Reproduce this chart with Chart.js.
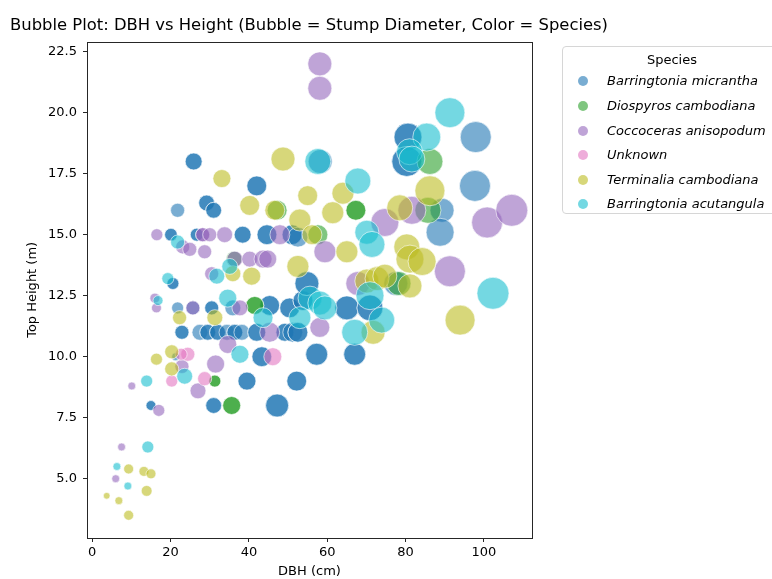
<!DOCTYPE html>
<html>
<head>
<meta charset="utf-8">
<script src="https://cdn.jsdelivr.net/npm/chart.js@4.4.1/dist/chart.umd.min.js"></script>
<style>
  html, body { margin: 0; padding: 0; background: #fff; }
  #wrap { position: relative; width: 772px; height: 579px; overflow: hidden; }
  #chart { position: absolute; left: 0; top: 0; }
  #legend {
    position: absolute; left: 562px; top: 46px; width: 240px; height: 168px;
    box-sizing: border-box; border: 1px solid #d6d6d6; border-radius: 4px; background: #fff;
    font-family: "DejaVu Sans", sans-serif; color: #000;
  }
  #legend .ttl { position: absolute; left: 0; width: 218px; top: 5px; text-align: center; font-size: 13px; }
  #legend .row { position: absolute; left: 0; height: 16px; line-height: 16px; white-space: nowrap; }
  #legend .dot { position: absolute; left: 15px; top: 3px; width: 10px; height: 10px; border-radius: 50%; }
  #legend .lbl { position: absolute; left: 44px; top: 0; font-size: 13px; font-style: italic; }
</style>
</head>
<body>
<div id="wrap">
  <canvas id="chart" width="772" height="579"></canvas>
  <div id="legend"></div>
</div>
<script>
// Tree survey: diameter at breast height (cm), top height (m), stump diameter (cm)
const speciesNames = [
  "Barringtonia micrantha",
  "Diospyros cambodiana",
  "Coccoceras anisopodum",
  "Unknown",
  "Terminalia cambodiana",
  "Barringtonia acutangula"
];
const speciesColors = ["#1f77b4", "#2ca02c", "#9467bd", "#e377c2", "#bcbd22", "#17becf"];

// Barringtonia micrantha
const bmDbh = [97.9, 97.7, 80.6, 80.6, 80.3, 80.3, 89.3, 88.8, 58.2, 25.9, 25.9, 42.0, 42.0,
  29.2, 29.2, 31.0, 31.0, 21.8, 20.1, 20.1, 26.7, 26.7, 38.4, 38.4, 44.6, 44.6, 51.0, 51.0, 52.5,
  20.6, 20.6, 21.8, 25.7, 30.5, 30.5, 35.9, 45.3, 45.3, 50.4, 50.4, 53.8, 53.8, 54.8, 54.8,
  65.0, 65.0, 70.9, 70.9, 77.5, 22.9, 22.9, 27.5, 29.5, 29.5, 32.0, 32.0, 34.4, 36.4, 36.4, 38.2,
  42.0, 42.0, 49.2, 49.2, 51.2, 52.5, 52.5, 43.3, 43.3, 57.3, 57.3, 67.0, 67.0, 39.5, 39.5,
  52.2, 52.2, 15.0, 15.0, 31.0, 31.0, 47.2, 47.2, 21.3];
const bmHeight = [19.0, 17.0, 19.0, 19.0, 18.0, 18.0, 16.0, 15.1, 18.0, 18.0, 18.0, 17.0, 17.0,
  16.3, 16.3, 16.0, 16.0, 16.0, 15.0, 15.0, 15.0, 15.0, 15.0, 15.0, 15.0, 15.0, 15.0, 15.0, 14.9,
  13.0, 13.0, 12.0, 12.0, 12.0, 12.0, 12.0, 12.1, 12.1, 12.0, 12.0, 12.3, 12.3, 13.0, 13.0,
  12.0, 12.0, 12.0, 12.0, 13.0, 11.0, 11.0, 11.0, 11.0, 11.0, 11.0, 11.0, 11.0, 11.0, 11.0, 11.0,
  11.0, 11.0, 11.0, 11.0, 11.0, 11.0, 11.0, 10.0, 10.0, 10.1, 10.1, 10.1, 10.1, 9.0, 9.0,
  9.0, 9.0, 8.0, 8.0, 8.0, 8.0, 8.0, 8.0, 10.0];
const bmStump = [107, 107, 87, 87, 100, 100, 64, 87, 64, 32, 32, 44, 44,
  28, 28, 28, 28, 22, 18, 18, 19, 19, 32, 32, 44, 44, 44, 44, 44,
  16, 16, 16, 22, 22, 22, 28, 44, 44, 44, 44, 44, 44, 64, 64,
  64, 64, 75, 75, 64, 22, 22, 28, 28, 28, 28, 28, 28, 28, 28, 28,
  36, 36, 36, 36, 44, 44, 44, 44, 44, 54, 54, 54, 54, 36, 36,
  44, 44, 11, 11, 28, 28, 59, 59, 7];

// Diospyros cambodiana
const dcDbh = [86.2, 85.7, 67.3, 67.3, 47.2, 57.6, 41.5, 41.5, 35.6, 35.6, 31.3, 31.3, 36.2, 78.3];
const dcHeight = [18.0, 16.0, 16.0, 16.0, 16.0, 15.0, 12.1, 12.1, 8.0, 8.0, 9.0, 9.0, 14.0, 13.0];
const dcStump = [75, 75, 44, 44, 44, 44, 36, 36, 36, 36, 16, 16, 28, 64];

// Coccoceras anisopodum
const caDbh = [58.1, 58.1, 74.7, 81.6, 100.8, 107.1, 91.3, 59.4, 67.8, 58.1, 16.5, 28.2, 28.2,
  30.0, 33.8, 47.9, 23.1, 24.9, 28.7, 36.4, 40.2, 43.6, 44.8, 30.5, 16.0, 16.4, 25.7, 37.7,
  45.3, 34.6, 22.9, 31.5, 27.0, 10.1, 17.0, 7.5, 6.0];
const caHeight = [22.0, 21.0, 15.5, 16.0, 15.5, 16.0, 13.5, 14.3, 13.0, 11.2, 15.0, 15.0, 15.0,
  15.0, 15.0, 15.0, 14.5, 14.4, 14.3, 14.0, 14.0, 14.0, 14.0, 13.4, 12.4, 12.0, 12.0, 12.0,
  11.0, 10.5, 9.6, 9.7, 8.6, 8.8, 7.8, 6.3, 5.0];
const caStump = [64, 64, 87, 87, 107, 114, 107, 54, 64, 44, 16, 22, 22,
  22, 28, 44, 22, 22, 22, 28, 28, 36, 36, 22, 11, 11, 22, 28,
  44, 36, 22, 36, 28, 7, 16, 7, 7];

// Unknown
const unDbh = [46.1, 24.4, 22.7, 20.3, 28.7];
const unHeight = [10.0, 10.1, 10.1, 9.0, 9.1];
const unStump = [36, 22, 16, 16, 22];

// Terminalia cambodiana
const tcDbh = [48.7, 33.1, 40.2, 46.6, 55.0, 64.0, 61.4, 53.0, 86.2, 78.5, 56.1, 52.5, 65.0,
  80.3, 81.1, 84.2, 70.1, 72.7, 74.7, 81.1, 93.9, 71.7, 40.7, 35.9, 22.3, 31.3, 16.4, 20.3,
  20.3, 9.3, 13.2, 15.0, 13.9, 3.7, 6.8, 9.3];
const tcHeight = [18.1, 17.3, 16.2, 16.0, 16.6, 16.7, 15.9, 15.6, 16.8, 16.1, 15.0, 13.7, 14.3,
  14.5, 14.0, 13.9, 13.1, 13.2, 13.3, 12.9, 11.5, 11.0, 13.3, 13.4, 11.6, 11.6, 9.9, 10.2,
  9.5, 5.4, 5.3, 5.2, 4.5, 4.3, 4.1, 3.5];
const tcStump = [64, 36, 44, 44, 44, 54, 54, 54, 100, 75, 44, 54, 54,
  75, 87, 87, 64, 64, 64, 64, 100, 64, 36, 28, 22, 28, 16, 22,
  22, 11, 11, 11, 13, 5, 7, 11];

// Barringtonia acutangula
const baDbh = [91.3, 85.4, 81.0, 81.6, 57.6, 67.8, 70.1, 71.4, 102.3, 70.9, 73.9, 67.0, 55.6,
  58.1, 59.4, 53.0, 37.7, 43.6, 34.6, 35.1, 31.8, 21.8, 19.3, 16.8, 23.6, 13.9, 14.2, 6.3, 9.1];
const baHeight = [20.0, 19.0, 18.4, 18.1, 18.0, 17.2, 15.1, 14.6, 12.6, 12.5, 11.5, 11.0, 12.4,
  12.2, 12.0, 11.6, 10.1, 11.6, 12.4, 13.7, 13.3, 14.7, 13.2, 12.3, 9.2, 9.0, 6.3, 5.5, 4.7];
const baStump = [100, 87, 75, 75, 75, 75, 64, 75, 114, 87, 75, 75, 64,
  64, 64, 54, 36, 44, 36, 28, 28, 22, 16, 11, 28, 16, 16, 7, 7];

const xTicks = [0, 20, 40, 60, 80, 100];
const yTicks = [5.0, 7.5, 10.0, 12.5, 15.0, 17.5, 20.0, 22.5];

const seriesDbh = [bmDbh, dcDbh, caDbh, unDbh, tcDbh, baDbh];
const seriesHeight = [bmHeight, dcHeight, caHeight, unHeight, tcHeight, baHeight];
const seriesStump = [bmStump, dcStump, caStump, unStump, tcStump, baStump];

// bubble area grows with stump diameter
function bubbleRadius(stump) { return 1.5 * Math.sqrt(stump); }

function withAlpha(hex, a) {
  const n = parseInt(hex.slice(1), 16);
  return `rgba(${(n >> 16) & 255},${(n >> 8) & 255},${n & 255},${a})`;
}

const datasets = speciesNames.map((name, i) => ({
  label: name,
  data: seriesDbh[i].map((d, k) => ({ x: d, y: seriesHeight[i][k], r: bubbleRadius(seriesStump[i][k]) })),
  backgroundColor: withAlpha(speciesColors[i], 0.6),
  borderColor: "rgba(255,255,255,0.6)",
  borderWidth: 1,
  order: speciesNames.length - i
}));

// full box around the plotting area
const frame = {
  id: "frame",
  afterDraw(chart) {
    const { ctx, chartArea: a } = chart;
    ctx.save();
    ctx.strokeStyle = "#262626";
    ctx.lineWidth = 1;
    ctx.strokeRect(Math.round(a.left) + 0.5, Math.round(a.top) + 0.5,
      Math.round(a.right - a.left), Math.round(a.bottom - a.top));
    ctx.restore();
  }
};

const font = { family: "'DejaVu Sans', sans-serif", size: 13 };

new Chart(document.getElementById("chart"), {
  type: "bubble",
  data: { datasets },
  options: {
    responsive: false,
    animation: false,
    devicePixelRatio: 1,
    layout: { padding: { left: 0, right: 154, top: 0, bottom: 0 } },
    plugins: {
      legend: { display: false },
      tooltip: { enabled: false },
      title: {
        display: true,
        text: "Bubble Plot: DBH vs Height (Bubble = Stump Diameter, Color = Species)",
        color: "#000",
        font: { family: font.family, size: 16.4, weight: "normal" },
        padding: { top: 16, bottom: 6 }
      }
    },
    scales: {
      x: {
        type: "linear",
        position: "bottom",
        min: -1.33,
        max: 112.26,
        afterBuildTicks(s) { s.ticks = xTicks.map(v => ({ value: v })); },
        afterFit(s) { s.height = 41; },
        ticks: { color: "#000", font, padding: 3, maxRotation: 0, callback: v => String(v) },
        grid: { display: true, drawOnChartArea: false, drawTicks: true, tickLength: 4, color: "#262626" },
        border: { display: false },
        title: { display: true, text: "DBH (cm)", color: "#000", font, padding: { top: 0, bottom: 0 } }
      },
      y: {
        type: "linear",
        position: "left",
        min: 2.57,
        max: 22.91,
        afterBuildTicks(s) { s.ticks = yTicks.map(v => ({ value: v })); },
        afterFit(s) { s.width = 87; },
        ticks: { color: "#000", font, padding: 6, callback: v => Number(v).toFixed(1) },
        grid: { display: true, drawOnChartArea: false, drawTicks: true, tickLength: 4, color: "#262626" },
        border: { display: false },
        title: { display: true, text: "Top Height (m)", color: "#000", font, padding: { top: 25, bottom: 0 } }
      },
      side: {
        type: "linear",
        position: "right",
        display: true,
        afterFit(s) { s.width = 86; },
        ticks: { display: false },
        grid: { display: false },
        border: { display: false }
      }
    }
  },
  plugins: [frame]
});

// species key
const legend = document.getElementById("legend");
const ttl = document.createElement("div");
ttl.className = "ttl";
ttl.textContent = "Species";
legend.appendChild(ttl);
const rowTops = [26, 51, 76, 100, 125, 149];
speciesNames.forEach((name, i) => {
  const row = document.createElement("div");
  row.className = "row";
  row.style.top = rowTops[i] + "px";
  const dot = document.createElement("span");
  dot.className = "dot";
  dot.style.background = withAlpha(speciesColors[i], 0.6);
  const lbl = document.createElement("span");
  lbl.className = "lbl";
  lbl.textContent = name;
  row.appendChild(dot);
  row.appendChild(lbl);
  legend.appendChild(row);
});
</script>
</body>
</html>
